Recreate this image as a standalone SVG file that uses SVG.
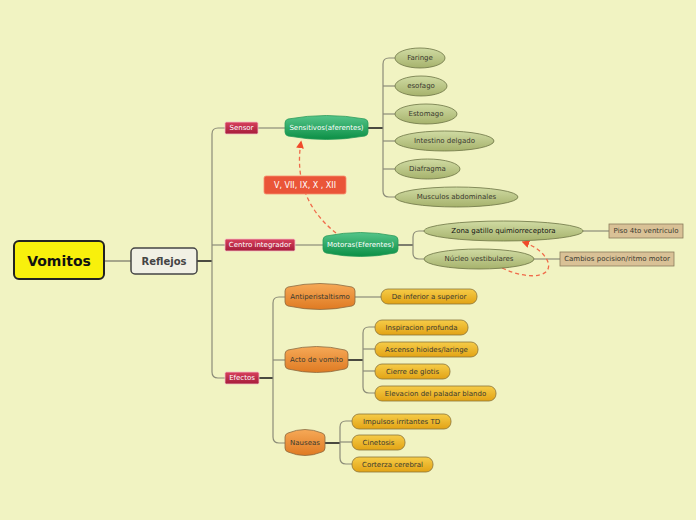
<svg xmlns="http://www.w3.org/2000/svg" width="696" height="520" viewBox="0 0 696 520">
<defs>
<linearGradient id="gGreen" x1="0" y1="0" x2="0" y2="1"><stop offset="0" stop-color="#55c58a"/><stop offset="1" stop-color="#0b8f45"/></linearGradient>
<linearGradient id="gOrange" x1="0" y1="0" x2="0" y2="1"><stop offset="0" stop-color="#f6a957"/><stop offset="1" stop-color="#df7a22"/></linearGradient>
<linearGradient id="gYellow" x1="0" y1="0" x2="0" y2="1"><stop offset="0" stop-color="#f6cc48"/><stop offset="1" stop-color="#e2a315"/></linearGradient>
<linearGradient id="gOlive" x1="0" y1="0" x2="0" y2="1"><stop offset="0" stop-color="#d0dba3"/><stop offset="1" stop-color="#a6b26c"/></linearGradient>
<linearGradient id="gRed" x1="0" y1="0" x2="0" y2="1"><stop offset="0" stop-color="#d8405c"/><stop offset="1" stop-color="#a51c3a"/></linearGradient>
<marker id="arr" viewBox="0 0 10 10" refX="8" refY="5" markerWidth="6" markerHeight="6" orient="auto"><path d="M0,0 L10,5 L0,10 z" fill="#f04a2a"/></marker>
</defs>
<style>
text{font-family:"DejaVu Sans",Verdana,sans-serif;font-size:7px;text-anchor:middle;dominant-baseline:central}
.ln{fill:none;stroke:#8c8c78;stroke-width:1.2}
.lnd{fill:none;stroke:#4a4a40;stroke-width:2}
.dash{fill:none;stroke:#f06a4a;stroke-width:1.3;stroke-dasharray:4,3}
.red{fill:url(#gRed);stroke:#f4c0c8;stroke-width:0.8}
.wt{fill:#fff}
.green{fill:url(#gGreen);stroke:#2a9a5a;stroke-width:0.8}
.orange{fill:url(#gOrange);stroke:#8a6a40;stroke-width:0.8}
.pill{fill:url(#gYellow);stroke:#8a7438;stroke-width:0.8}
.oval{fill:url(#gOlive);stroke:#6c7444;stroke-width:0.8}
.tan{fill:#d9c196;stroke:#8a7a5c;stroke-width:0.8}
.dk{fill:#3a3a30}
</style>
<rect width="696" height="520" fill="#f1f3c2"/>
<g id="connectors">
<line x1="104" y1="261" x2="131" y2="261" style="stroke:#8c8c78;stroke-width:1.5"/>
<line class="lnd" x1="197" y1="261" x2="212" y2="261"/>
<path class="ln" d="M225,128 H218 Q212,128 212,134 V372 Q212,378 218,378 H225"/>
<line class="ln" x1="212" y1="245" x2="225" y2="245"/>
<line class="ln" x1="258" y1="128" x2="285" y2="128"/>
<line class="ln" x1="295" y1="245" x2="323" y2="245"/>
<line class="lnd" x1="259" y1="378" x2="273" y2="378"/>
<path class="ln" d="M285,297 H279 Q273,297 273,303 V437 Q273,443 279,443 H285"/>
<line class="ln" x1="273" y1="360" x2="285" y2="360"/>
<line class="lnd" x1="368" y1="128" x2="383" y2="128"/>
<path class="ln" d="M395,58 H389 Q383,58 383,64 V191 Q383,197 389,197 H395"/>
<line class="ln" x1="383" y1="86" x2="395" y2="86"/>
<line class="ln" x1="383" y1="114" x2="395" y2="114"/>
<line class="ln" x1="383" y1="141" x2="395" y2="141"/>
<line class="ln" x1="383" y1="169" x2="395" y2="169"/>
<line x1="398" y1="245" x2="413" y2="245" style="stroke:#707064;stroke-width:1.8"/>
<path class="ln" d="M424,231 H419 Q413,231 413,237 V253 Q413,259 419,259 H424"/>
<line class="ln" x1="583" y1="231" x2="609" y2="231"/>
<line class="ln" x1="534" y1="259" x2="560" y2="259"/>
<line class="ln" x1="355" y1="297" x2="381" y2="297"/>
<line class="lnd" x1="348" y1="360" x2="363" y2="360"/>
<path class="ln" d="M375,327 H369 Q363,327 363,333 V387 Q363,393 369,393 H375"/>
<line class="ln" x1="363" y1="349" x2="375" y2="349"/>
<line class="ln" x1="363" y1="371" x2="375" y2="371"/>
<line class="lnd" x1="325" y1="443" x2="340" y2="443"/>
<path class="ln" d="M352,421 H346 Q340,421 340,427 V458 Q340,464 346,464 H352"/>
<line class="ln" x1="340" y1="442" x2="352" y2="442"/>
<path class="dash" d="M336,233 C312,214 294,185 301,142" marker-end="url(#arr)"/>
<path class="dash" d="M502,268 C532,282 557,276 546,258 C540,249 531,245 523,242" marker-end="url(#arr)"/>
</g>
<g id="n-vomitos"><rect x="14" y="241" width="90" height="38" rx="5" fill="#f8f00c" stroke="#222" stroke-width="2"/><text x="59" y="261" style="font-size:14px;font-weight:bold" fill="#111">Vomitos</text></g>
<g id="n-reflejos"><rect x="131" y="248" width="66" height="26" rx="4" fill="#f1f0e4" stroke="#444" stroke-width="1.5"/><text x="164" y="261" style="font-size:10px;font-weight:bold" fill="#444">Reflejos</text></g>
<g id="n-sensor"><rect class="red" x="225" y="122" width="33" height="12" rx="1.5"/><text class="wt" x="241.5" y="128">Sensor</text></g>
<g id="n-centro"><rect class="red" x="225" y="239" width="70" height="12" rx="1.5"/><text class="wt" x="260" y="245">Centro integrador</text></g>
<g id="n-efectos"><rect class="red" x="225" y="372" width="34" height="12" rx="1.5"/><text class="wt" x="242" y="378">Efectos</text></g>
<g id="n-sensitivos"><path class="green" d="M288,119 Q326.5,112 365,119 Q368,120 368,123 V132 Q368,135 365,136 Q326.5,143 288,136 Q285,135 285,132 V123 Q285,120 288,119 Z"/><text class="wt" x="326.5" y="128">Sensitivos(aferentes)</text></g>
<g id="n-motoras"><path class="green" d="M326,236 Q360.5,229 395,236 Q398,237 398,240 V249 Q398,252 395,253 Q360.5,260 326,253 Q323,252 323,249 V240 Q323,237 326,236 Z"/><text class="wt" x="360.5" y="245">Motoras(Eferentes)</text></g>
<g id="n-antiper"><path class="orange" d="M288,287 Q320,280 352,287 Q355,288 355,291 V302 Q355,305 352,306 Q320,313 288,306 Q285,305 285,302 V291 Q285,288 288,287 Z"/><text class="dk" x="320" y="297">Antiperistaltismo</text></g>
<g id="n-acto"><path class="orange" d="M288,350 Q316.5,343 345,350 Q348,351 348,354 V365 Q348,368 345,369 Q316.5,376 288,369 Q285,368 285,365 V354 Q285,351 288,350 Z"/><text class="dk" x="316.5" y="360">Acto de vomito</text></g>
<g id="n-nauseas"><path class="orange" d="M288,433 Q305,426 322,433 Q325,434 325,437 V448 Q325,451 322,452 Q305,459 288,452 Q285,451 285,448 V437 Q285,434 288,433 Z"/><text class="dk" x="305" y="443">Nauseas</text></g>
<g id="n-faringe"><ellipse class="oval" cx="420" cy="58" rx="25" ry="10"/><text class="dk" x="420" y="58">Faringe</text></g>
<g id="n-esofago"><ellipse class="oval" cx="421" cy="86" rx="26" ry="10"/><text class="dk" x="421" y="86">esofago</text></g>
<g id="n-estomago"><ellipse class="oval" cx="426" cy="114" rx="31" ry="10"/><text class="dk" x="426" y="114">Estomago</text></g>
<g id="n-intestino"><ellipse class="oval" cx="444.5" cy="141" rx="49.5" ry="10"/><text class="dk" x="444.5" y="141">Intestino delgado</text></g>
<g id="n-diafragma"><ellipse class="oval" cx="427.5" cy="169" rx="32.5" ry="10"/><text class="dk" x="427.5" y="169">Diafragma</text></g>
<g id="n-musculos"><ellipse class="oval" cx="456.5" cy="197" rx="61.5" ry="10"/><text class="dk" x="456.5" y="197">Musculos abdominales</text></g>
<g id="n-zona"><ellipse class="oval" cx="503.5" cy="231" rx="79.5" ry="10"/><text x="503.5" y="231" fill="#111">Zona gatillo quimiorreceptora</text></g>
<g id="n-nucleo"><ellipse class="oval" cx="479" cy="259" rx="55" ry="10"/><text class="dk" x="479" y="259">Núcleo vestibulares</text></g>
<g id="n-piso"><rect class="tan" x="609" y="224" width="74" height="14"/><text class="dk" x="646" y="231">Piso 4to ventriculo</text></g>
<g id="n-cambios"><rect class="tan" x="560" y="252" width="114" height="14"/><text class="dk" x="617" y="259">Cambios pocision/ritmo motor</text></g>
<g id="n-deinf"><rect class="pill" x="381" y="289" width="96" height="15" rx="7"/><text class="dk" x="429" y="296.5">De inferior a superior</text></g>
<g id="n-insp"><rect class="pill" x="375" y="320" width="93" height="15" rx="7"/><text class="dk" x="421.5" y="327.5">Inspiracion profunda</text></g>
<g id="n-ascenso"><rect class="pill" x="375" y="342" width="103" height="15" rx="7"/><text class="dk" x="426.5" y="349.5">Ascenso hioides/laringe</text></g>
<g id="n-cierre"><rect class="pill" x="375" y="364" width="75" height="15" rx="7"/><text class="dk" x="412.5" y="371.5">Cierre de glotis</text></g>
<g id="n-elevacion"><rect class="pill" x="375" y="386" width="121" height="15" rx="7"/><text class="dk" x="435.5" y="393.5">Elevacion del paladar blando</text></g>
<g id="n-impulsos"><rect class="pill" x="352" y="414" width="99" height="15" rx="7"/><text class="dk" x="401.5" y="421.5">Impulsos irritantes TD</text></g>
<g id="n-cinetosis"><rect class="pill" x="352" y="435" width="53" height="15" rx="7"/><text class="dk" x="378.5" y="442.5">Cinetosis</text></g>
<g id="n-corterza"><rect class="pill" x="352" y="457" width="81" height="15" rx="7"/><text class="dk" x="392.5" y="464.5">Corterza cerebral</text></g>
<g id="n-label"><rect x="264" y="176" width="82" height="18" rx="2" fill="#ea5538" stroke="#f79070" stroke-width="0.8"/><text class="wt" x="305" y="185" style="font-size:8px">V, VII, IX, X , XII</text></g>
</svg>
